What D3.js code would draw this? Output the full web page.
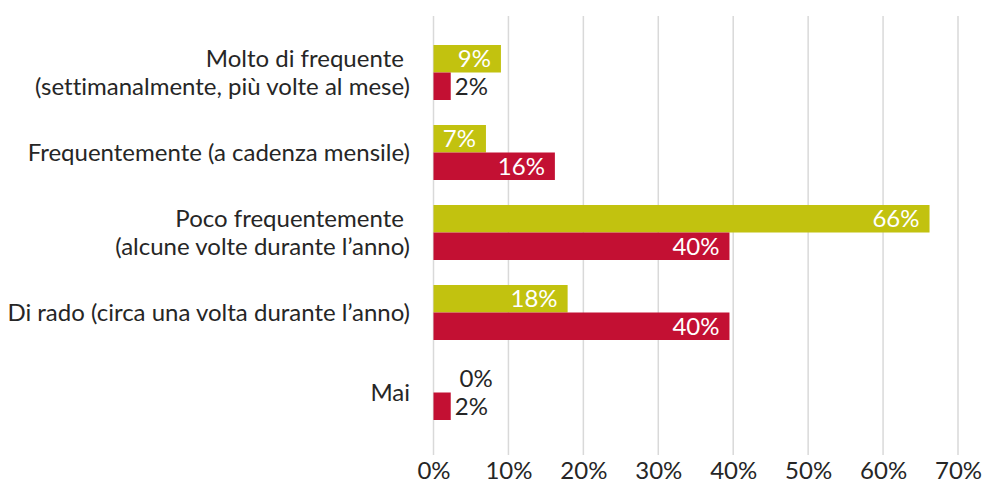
<!DOCTYPE html>
<html><head><meta charset="utf-8">
<script src="https://cdn.jsdelivr.net/npm/d3@7"></script>
<style>body{margin:0;background:#fff}svg{display:block}text{font-family:Lato,"Noto Sans",sans-serif;font-weight:400;font-variant-ligatures:none}</style>
</head><body>
<svg id="c" width="983" height="484"></svg>
<script>
const categories = [
  ["Molto di frequente ", "(settimanalmente, più volte al mese)"],
  ["Frequentemente (a cadenza mensile)"],
  ["Poco frequentemente ", "(alcune volte durante l’anno)"],
  ["Di rado (circa una volta durante l’anno)"],
  ["Mai"]
];
const seriesA = [9.0, 7.0, 66.2, 17.9, 0];
const seriesB = [2.3, 16.2, 39.5, 39.5, 2.3];
const ticks = [0, 10, 20, 30, 40, 50, 60, 70];
const colors = ["#C2C20F", "#C31033"];

const svg = d3.select("#c");
const x = d3.scaleLinear().domain([0, 70]).range([433.5, 958]);
const y = d3.scaleBand().domain(d3.range(categories.length)).range([32.5, 432.5]);
const barH = 27.5;
const FS = 24;

svg.append("g").selectAll("line").data(ticks).join("line")
  .attr("x1", d => x(d)).attr("x2", d => x(d))
  .attr("y1", 16).attr("y2", 455)
  .attr("stroke", "#d9d9d9").attr("stroke-width", 1.5);

const xAxis = d3.axisBottom(x).tickValues(ticks).tickFormat(d => d + "%").tickSize(0).tickPadding(0);
const gx = svg.append("g").attr("transform", "translate(0,462)").call(xAxis);
gx.select(".domain").remove();
gx.selectAll("text").attr("font-size", FS).attr("fill", "#262626").attr("dy", "0.71em")
  .style("font-family", 'Lato,"Noto Sans",sans-serif');

const series = [seriesA, seriesB];
series.forEach((vals, si) => {
  const g = svg.append("g");
  g.selectAll("rect").data(vals).join("rect")
    .attr("x", x(0))
    .attr("y", (d, i) => y(i) + y.bandwidth() / 2 - barH + si * barH)
    .attr("width", d => x(d) - x(0))
    .attr("height", barH)
    .attr("fill", colors[si]);
  g.selectAll("text").data(vals).join("text")
    .attr("x", d => d >= 5 ? x(d) - 10 : (d === 0 ? x(0) + 26 : x(d) + 4))
    .attr("y", (d, i) => y(i) + y.bandwidth() / 2 - barH / 2 + si * barH)
    .attr("dy", "0.36em")
    .attr("text-anchor", d => d >= 5 ? "end" : "start")
    .attr("font-size", FS)
    .attr("fill", d => d >= 5 ? "#ffffff" : "#262626")
    .text(d => Math.round(d) + "%");
});

const gl = svg.append("g");
categories.forEach((lines, i) => {
  const cy = y(i) + y.bandwidth() / 2;
  const t = gl.append("text")
    .attr("x", 410).attr("text-anchor", "end")
    .attr("font-size", FS).attr("fill", "#262626")
    .style("white-space", "pre");
  const n = lines.length;
  lines.forEach((s, k) => {
    t.append("tspan").attr("x", 410)
      .attr("y", cy + (k - (n - 1) / 2) * 28)
      .attr("dy", "0.36em")
      .text(s);
  });
});
</script>
</body></html>
